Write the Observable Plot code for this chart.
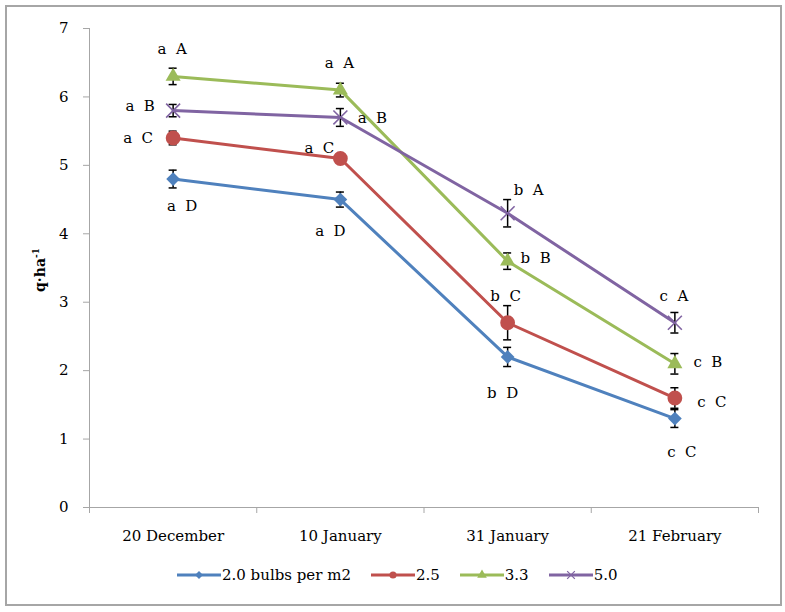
<!DOCTYPE html>
<html><head><meta charset="utf-8">
<script src="https://cdn.jsdelivr.net/npm/d3@7"></script>
<script src="https://cdn.jsdelivr.net/npm/@observablehq/plot@0.6"></script>
<style>
body{margin:0;background:#fff;font-family:"DejaVu Serif",serif;}
#frame{position:absolute;left:5px;top:5px;width:773px;height:597px;border:2px solid #a6a6a6;box-sizing:content-box;}
#chart{position:absolute;left:0;top:0;}
#legend{position:absolute;left:177px;top:566px;display:flex;align-items:center;font-size:15px;color:#000;white-space:nowrap;}
#legend .item{display:flex;align-items:center;margin-right:20px;}
#legend svg{display:block;margin-right:1px;}
</style></head><body>
<div id="frame"></div>
<div id="chart"></div>
<div id="legend"></div>
<script>
// ---- data ----
const dates = ["20 December", "10 January", "31 January", "21 February"];
const seriesNames = ["2.0 bulbs per m2", "2.5", "3.3", "5.0"];
const v20 = [4.8, 4.5, 2.2, 1.3];
const v25 = [5.4, 5.1, 2.7, 1.6];
const v33 = [6.3, 6.1, 3.6, 2.1];
const v50 = [5.8, 5.7, 4.3, 2.7];
const e20 = [0.13, 0.11, 0.14, 0.13];
const e25 = [0.10, 0.05, 0.25, 0.15];
const e33 = [0.12, 0.10, 0.12, 0.15];
const e50 = [0.09, 0.13, 0.20, 0.15];
const l20 = ["a\u00a0 D", "a\u00a0 D", "b\u00a0 D", "c\u00a0 C"];
const l25 = ["a\u00a0 C", "a\u00a0 C", "b\u00a0 C", "c\u00a0 C"];
const l33 = ["a\u00a0 A", "a\u00a0 A", "b\u00a0 B", "c\u00a0 B"];
const l50 = ["a\u00a0 B", "a\u00a0 B", "b\u00a0 A", "c\u00a0 A"];
const yTicks = [0, 1, 2, 3, 4, 5, 6, 7];

// ---- layout / style (not data) ----
const colors = ["#4F81BD", "#C0504D", "#9BBB59", "#8064A2"];
const symbols = ["diamond2", "circle", "triangle", "times"];
const radii = [6.2, 7.4, 5.6, 6.4];
const labelOffsets = [
  [[9, 27], [-10, 32], [-5, 36], [7, 34]],
  [[-35, 0], [-21, -10], [-2, -27], [37, 4]],
  [[-1, -27], [-1, -27], [28, -3], [33, -2]],
  [[-33, -4], [32, 1], [21, -23], [-1, -27]]
];

const values = [v20, v25, v33, v50];
const errs = [e20, e25, e33, e50];
const labels = [l20, l25, l33, l50];

const rows = [];
seriesNames.forEach((s, k) => {
  dates.forEach((d, i) => {
    rows.push({series: s, k, date: d, x: i + 0.5, value: values[k][i], err: errs[k][i],
      label: labels[k][i], dx: labelOffsets[k][i][0], dy: labelOffsets[k][i][1]});
  });
});

const capHalf = 0.024;
const marks = [
  Plot.ruleX([0], {y1: 0, y2: 7, stroke: "#a6a6a6", strokeWidth: 1}),
  Plot.ruleY([0], {stroke: "#a6a6a6", strokeWidth: 1}),
  Plot.axisY({ticks: yTicks, tickSize: 6, tickPadding: 15, stroke: "#a6a6a6", fill: "#000", label: null, tickFormat: d => d, fontSize: 15}),
  Plot.axisX({ticks: d3.range(dates.length + 1), tickSize: 6, tickFormat: () => "", stroke: "#a6a6a6", label: null}),
  Plot.axisX({ticks: dates.map((d, i) => i + 0.5), tickSize: 0, tickPadding: 23, tickFormat: t => dates[Math.floor(t)], fill: "#000", label: null, fontSize: 15}),
  Plot.line(rows, {x: "x", y: "value", z: "series", stroke: "series", strokeWidth: 3}),
  Plot.ruleX(rows, {x: "x", y1: d => d.value - d.err, y2: d => d.value + d.err, stroke: "#000", strokeWidth: 1.5}),
  Plot.ruleY(rows, {y: d => d.value - d.err, x1: d => d.x - capHalf, x2: d => d.x + capHalf, stroke: "#000", strokeWidth: 1.5}),
  Plot.ruleY(rows, {y: d => d.value + d.err, x1: d => d.x - capHalf, x2: d => d.x + capHalf, stroke: "#000", strokeWidth: 1.5})
];
seriesNames.forEach((s, k) => {
  const sub = rows.filter(r => r.k === k);
  if (symbols[k] === "times") {
    marks.push(Plot.dot(sub, {x: "x", y: "value", symbol: () => "times", r: radii[k], stroke: colors[k], strokeWidth: 1.6, fill: "none"}));
  } else {
    marks.push(Plot.dot(sub, {x: "x", y: "value", symbol: () => symbols[k], r: radii[k], fill: colors[k], stroke: "none"}));
  }
});
rows.forEach(r => {
  marks.push(Plot.text([r], {x: "x", y: "value", text: "label", dx: r.dx, dy: r.dy, fill: "#000", fontSize: 15}));
});

const chart = Plot.plot({
  width: 785, height: 555,
  marginLeft: 89, marginRight: 27, marginTop: 28, marginBottom: 48,
  x: {domain: [0, 4], axis: null},
  y: {domain: [0, 7], axis: null},
  color: {domain: seriesNames, range: colors},
  symbol: {domain: symbols, range: symbols},
  style: {fontFamily: "DejaVu Serif, serif", fontSize: "15px", background: "transparent", overflow: "visible"},
  marks
});
document.getElementById("chart").appendChild(chart);

// y-axis title with superscript
const svg = d3.select(chart);
const t = svg.append("text")
  .attr("transform", "translate(41,270) rotate(-90)")
  .attr("text-anchor", "middle")
  .attr("dominant-baseline", "middle")
  .attr("font-family", "DejaVu Serif, serif")
  .attr("font-weight", "bold")
  .attr("font-size", 14)
  .attr("fill", "#000");
t.append("tspan").text("q·ha");
t.append("tspan").attr("baseline-shift", "super").attr("font-size", 9).text("-1");

// legend
const legend = d3.select("#legend");
seriesNames.forEach((s, k) => {
  const item = legend.append("div").attr("class", "item");
  const sw = item.append("svg").attr("width", 44).attr("height", 14);
  sw.append("line").attr("x1", 0).attr("x2", 44).attr("y1", 7).attr("y2", 7)
    .attr("stroke", colors[k]).attr("stroke-width", 3);
  const sym = {diamond2: d3.symbolDiamond2, circle: d3.symbolCircle, triangle: d3.symbolTriangle, times: d3.symbolTimes}[symbols[k]];
  const p = sw.append("path").attr("transform", "translate(22,7)").attr("d", d3.symbol(sym, 40)());
  if (symbols[k] === "times") p.attr("fill", "none").attr("stroke", colors[k]).attr("stroke-width", 1.2);
  else p.attr("fill", colors[k]);
  item.append("span").text(s);
});
</script>
</body></html>
